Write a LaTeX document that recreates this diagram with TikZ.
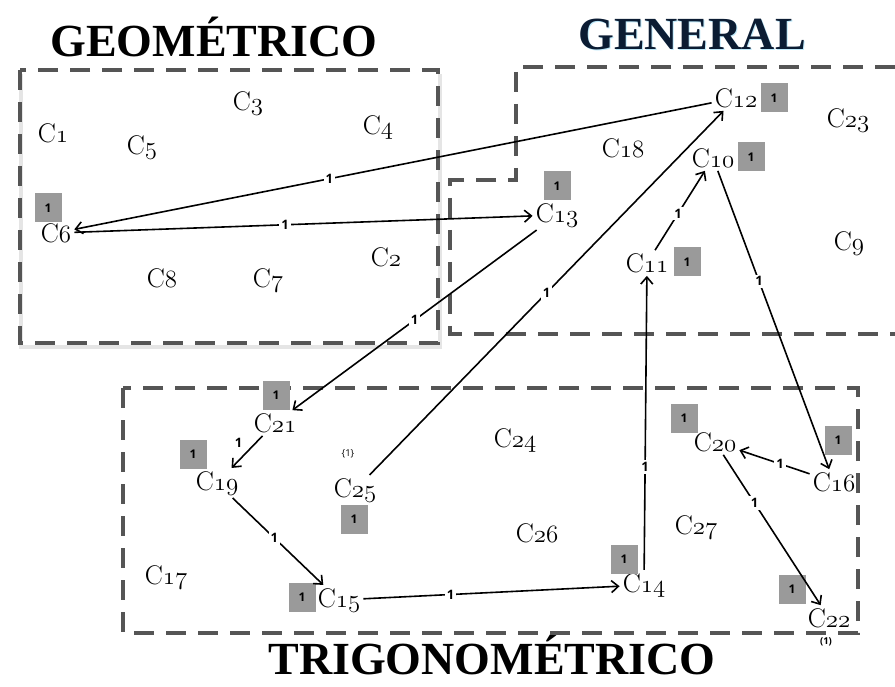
\documentclass[tikz,border=0pt]{standalone}
\usepackage{fontspec}
\newfontfamily\titlefont{Liberation Serif}
\newfontfamily\weightfont{Open Sans}
\usetikzlibrary{arrows.meta}
\definecolor{regiongray}{HTML}{555555}
\definecolor{badgegray}{HTML}{9A9A9A}
\definecolor{titlenavy}{HTML}{0B1C33}
\newcommand{\cname}[1]{C{\usefont{OML}{lmm}{m}{it}#1}}

\begin{document}
\begin{tikzpicture}[x=1pt,y=-1pt,>={Straight Barb[length=7pt,width=12pt]},
    concept/.style={font=\fontsize{27}{30}\selectfont,inner sep=3pt},
    title/.style={font=\titlefont\bfseries\fontsize{46}{50}\selectfont},
    region/.style={draw=regiongray,line width=4pt,dash pattern=on 20pt off 12pt},
    link/.style={->,line width=1.6pt},
    weight/.style={font=\weightfont\bfseries\fontsize{13}{14}\selectfont,fill=white,inner sep=2pt},
    badge/.style={fill=badgegray,font=\weightfont\bfseries\fontsize{12}{13}\selectfont,minimum width=27pt,minimum height=29pt,inner sep=0pt}]
      \useasboundingbox (0,0) rectangle (895,687);

      % titles
      \node[title,text=cyan!25] at (693,35) {GENERAL};
      \node[title] (tgeo) at (214,37) {GEOMÉTRICO};
      \node[title,text=titlenavy] (tgen) at (692,34) {GENERAL};
      \node[title] (ttrig) at (492,655) {TRIGONOMÉTRICO};

      % regions
      \draw[black!10,line width=4pt] (21,74) -- (21,347) -- (440,347) -- (440,74);
      \draw[region] (20,70) rectangle (438,343);
      \draw[region] (895,67) -- (516,67) -- (516,180) -- (450,180) -- (450,334) -- (895,334);
      \draw[region] (123,388) rectangle (858,633);

      % geometrico
      \node[concept] (c1) at (53,133) {\cname{1}};
      \node[concept] (c5) at (142,147) {\cname{5}};
      \node[concept] (c3) at (248,103) {\cname{3}};
      \node[concept] (c4) at (378,127) {\cname{4}};
      \node[concept] (c6) at (56,233) {\cname{6}};
      \node[concept] (c2) at (386,257) {\cname{2}};
      \node[concept] (c8) at (162,278) {\cname{8}};
      \node[concept] (c7) at (268,280) {\cname{7}};

      % general
      \node[concept] (c12) at (736,98) {\cname{12}};
      \node[concept] (c23) at (848,120) {\cname{23}};
      \node[concept] (c18) at (623,148) {\cname{18}};
      \node[concept] (c10) at (713,158) {\cname{10}};
      \node[concept] (c13) at (557,215) {\cname{13}};
      \node[concept] (c9) at (849,243) {\cname{9}};
      \node[concept] (c11) at (647,263) {\cname{11}};

      % trigonometrico
      \node[concept] (c21) at (275,423) {\cname{21}};
      \node[concept] (c19) at (217,483) {\cname{19}};
      \node[concept] (c25) at (355,490) {\cname{25}};
      \node[concept] (c17) at (166,577) {\cname{17}};
      \node[concept] (c15) at (339,600) {\cname{15}};
      \node[concept] (c24) at (515,440) {\cname{24}};
      \node[concept] (c26) at (537,533) {\cname{26}};
      \node[concept] (c14) at (644,585) {\cname{14}};
      \node[concept] (c27) at (696,527) {\cname{27}};
      \node[concept] (c20) at (715,442) {\cname{20}};
      \node[concept] (c16) at (834,482) {\cname{16}};
      \node[concept] (c22) at (829,618) {\cname{22}};

      % badges
      \node[badge] (b6) at (48,208) {1};
      \node[badge] (b12) at (774,98) {1};
      \node[badge] (b10) at (751,157) {1};
      \node[badge] (b13) at (557,186) {1};
      \node[badge] (b11) at (687,262) {1};
      \node[badge] (b21) at (276,395) {1};
      \node[badge] (b19) at (193,454) {1};
      \node[badge] (b25) at (354,519) {1};
      \node[badge] (b15) at (302,597) {1};
      \node[badge] (b14) at (624,559) {1};
      \node[badge] (b20) at (684,418) {1};
      \node[badge] (b16) at (838,440) {1};
      \node[badge] (b22) at (792,589) {1};
      \node[font=\weightfont\fontsize{9.5}{10}\selectfont] (n25) at (348,454) {\{1\}};
      \node[font=\weightfont\bfseries\fontsize{9.5}{10}\selectfont] (n22) at (826,642) {(1)};

      % links
      \draw[link] (c12) -- node[weight,pos=0.6] {1} (c6);
      \draw[link] (c6) -- node[weight,pos=0.46] {1} (c13);
      \draw[link] (c13) -- node[weight] {1} (c21);
      \draw[link] (c25) -- node[weight] {1} (c12);
      \draw[link] (c11) -- node[weight,pos=0.46] {1} (c10);
      \draw[link] (c10) -- node[weight,pos=0.37] {1} (c16);
      \draw[link] (c16) -- node[weight,pos=0.42] {1} (c20);
      \draw[link] (c20) -- node[weight,pos=0.32] {1} (c22);
      \draw[link] (c14) -- node[weight,pos=0.35] {1} (c11);
      \draw[link] (c15) -- node[weight,pos=0.34] {1} (c14);
      \draw[link] (c19) -- node[weight,pos=0.46] {1} (c15);
      \draw[link] (c21) -- node[weight,above left=2pt,fill=none] {1} (c19);
\end{tikzpicture}
\end{document}
